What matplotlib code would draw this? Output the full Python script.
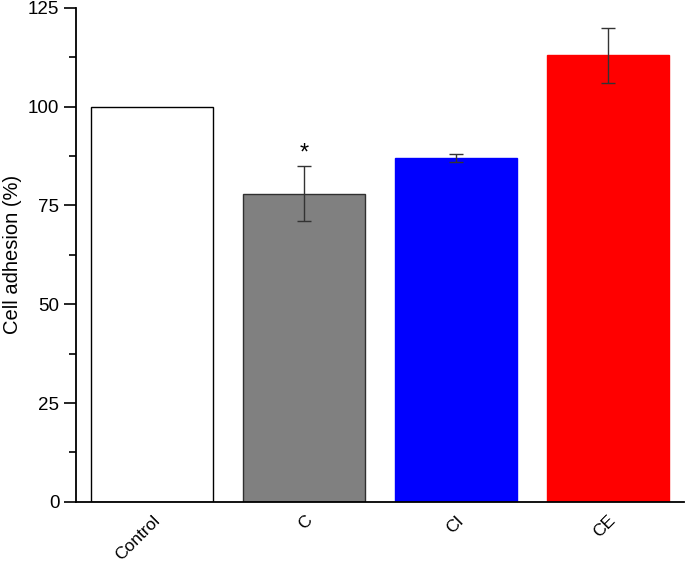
import numpy as np
import matplotlib.pyplot as plt
from matplotlib.ticker import MultipleLocator

plt.rcParams['font.family'] = ['Liberation Sans', 'DejaVu Sans']

# 数据
groups = ['Control', 'C', 'CI', 'CE']
adhesion = [100, 78, 87, 113]
errors = [0, 7, 1, 7]
colors = ['white', '#808080', '#0000ff', '#ff0000']
edges = ['black', '#303030', '#0000ff', '#ff0000']

fig = plt.figure(figsize=(6.85, 5.62), dpi=100)
ax = fig.add_axes([0.111, 0.107, 0.8875, 0.879])

x = np.arange(len(groups))
ax.bar(x, adhesion, width=0.8, color=colors, edgecolor=edges, linewidth=1.0, zorder=2)
for xi, v, e in zip(x, adhesion, errors):
    if e > 0:
        ax.errorbar(xi, v, yerr=e, fmt='none', ecolor='#333333', elinewidth=1.0,
                    capsize=5, capthick=1.0, zorder=3)

# 显著性标记
ax.text(x[1], adhesion[1] + errors[1] + 0.3, '*', ha='center', va='bottom', fontsize=17)

ax.set_xlim(-0.5, 3.5)
ax.set_ylim(0, 125)
ax.yaxis.set_major_locator(MultipleLocator(25))
ax.yaxis.set_minor_locator(MultipleLocator(12.5))
ax.set_xticks(x)
ax.set_xticklabels(groups, rotation=45, ha='right', rotation_mode='anchor', fontsize=12.5)
ax.tick_params(axis='x', length=0, pad=8)
ax.tick_params(axis='y', which='major', length=9, width=1.2, labelsize=13.5, direction='out', pad=3)
ax.tick_params(axis='y', which='minor', length=5, width=1.2, direction='out')
ax.set_ylabel('Cell adhesion (%)', fontsize=14.5, labelpad=4)

for s in ['top', 'right']:
    ax.spines[s].set_visible(False)
for s in ['left', 'bottom']:
    ax.spines[s].set_linewidth(1.3)

fig.savefig('out.png', dpi=100)
